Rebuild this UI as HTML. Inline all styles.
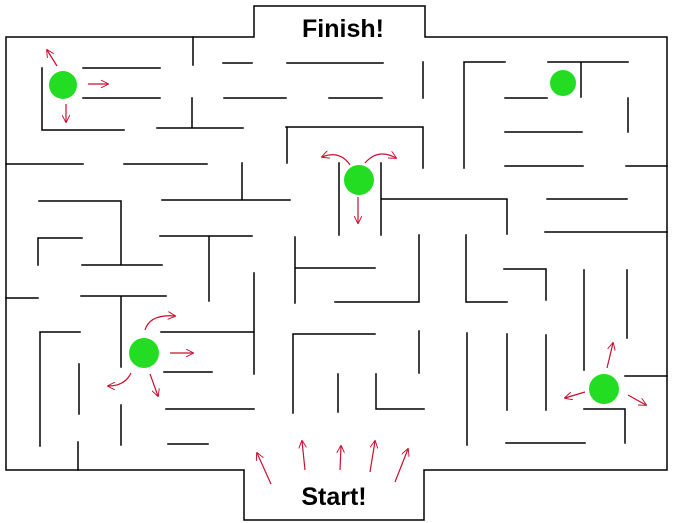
<!DOCTYPE html>
<html><head><style>body{margin:0;background:#fff}svg{display:block}</style></head><body>
<svg width="675" height="523" viewBox="0 0 675 523" xmlns="http://www.w3.org/2000/svg">
<defs><marker id="a" viewBox="0 0 10 10" refX="9" refY="5" markerWidth="8" markerHeight="8" orient="auto" markerUnits="userSpaceOnUse"><path d="M0,0 L10,5 L0,10" fill="none" stroke="#c8102e" stroke-width="1.2"/></marker></defs>
<g stroke="#000" stroke-width="1.5" fill="none" stroke-linecap="square">
<polyline points="254,37 6,37 6,470 244,470 244,520 424,520 424,470 667,470 667,37 425,37 425,6 254,6 254,37"/>
<path d="M193 37V65 M42 68V130 M83 68H160 M83 98H160 M192 98V128 M157 128H243 M42 130H124
M223 63H252 M287 63H383 M224 98H286 M329 98H382 M423 62V98
M286 127H423 M287 127V163 M423 127V168
M6 164H83 M124 164H207 M242 163V200 M162 200H290
M39 201H121 M121 201V265 M160 236H252 M209 236V301 M38 238V265 M38 238H82 M295 237V303
M339 163V235 M381 163V235 M381 199H507 M507 199V234
M464 62V168 M464 62H505 M548 62H628 M581 62V97 M505 98H547 M628 98V132 M505 132H582
M505 166H583 M626 166H667 M547 199H627 M545 232H667
M419 235V302 M466 235V302 M466 302H507
M82 265H162 M254 273V374 M6 298H38 M81 296H166 M121 296V367 M121 405V445
M40 332H80 M40 332V446 M79 364V414 M161 332H254 M164 372H212 M166 409H254 M78 442V470 M168 444H208
M295 268H375 M335 302H419 M293 334H375 M293 334V413 M338 374V412 M376 374V408 M376 409H424 M419 331V373
M504 269H546 M546 269V300 M467 333V445 M507 334V410 M546 335V410
M584 270V370 M627 270V338 M625 376H667 M584 409H625 M625 409V443 M506 443H585"/>
</g>
<g fill="#22dd22">
<circle cx="63" cy="85" r="14"/><circle cx="563" cy="83" r="13"/><circle cx="359" cy="180" r="15"/><circle cx="144" cy="353" r="15"/><circle cx="604" cy="389" r="15"/>
</g>
<g stroke="#c8102e" stroke-width="1.2" fill="none" marker-end="url(#a)">
<path d="M57 66L47 50"/><path d="M88 84H108"/><path d="M66 104V122"/>
<path d="M350 165Q340 150 322 157"/><path d="M365 163Q378 148 396 158"/><path d="M358 197V223"/>
<path d="M145 330Q150 314 175 316"/><path d="M170 353H193"/><path d="M131 373Q125 386 108 386"/><path d="M150 374L158 396"/>
<path d="M607 368L613 343"/><path d="M585 392L565 398"/><path d="M628 395L646 405"/>
<path d="M271 484L257 453"/><path d="M305 470L302 441"/><path d="M340 470L341 446"/><path d="M370 472L375 441"/><path d="M395 482L408 449"/>
</g>
<text x="343" y="37" text-anchor="middle" font-family="Liberation Sans, sans-serif" font-weight="bold" font-size="25">Finish!</text>
<text x="334" y="505" text-anchor="middle" font-family="Liberation Sans, sans-serif" font-weight="bold" font-size="25">Start!</text>
</svg>
</body></html>
